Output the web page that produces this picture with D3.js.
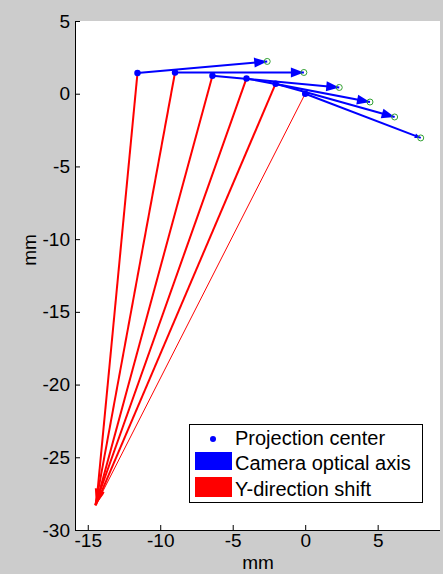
<!DOCTYPE html>
<meta charset="utf-8">
<script src="https://cdnjs.cloudflare.com/ajax/libs/d3/7.8.5/d3.min.js"></script>
<style>
  body { margin: 0; background: #cccccc; }
  text { font-family: "Liberation Sans", Arial, sans-serif; }
</style>
<div id="chart"></div>
<script>

  // projection centers (blue dots)
  const centerX = [-11.57, -8.98, -6.4, -4.05, -2.04, 0]
  const centerY = [1.42, 1.46, 1.24, 1.05, 0.69, 0]
  // camera optical axis end points (green circles)
  const axisEndX = [-2.62, -0.09, 2.35, 4.47, 6.17, 7.97]
  const axisEndY = [2.22, 1.46, 0.43, -0.57, -1.6, -3.04]
  // y-direction shift end points
  const shiftEndX = [-14.4, -14.45, -14.45, -14.5, -14.45, -14.4]
  const shiftEndY = [-28.1, -28.2, -28.3, -28.3, -28.3, -28.2]

  const xTicks = [-15, -10, -5, 0, 5]
  const yTicks = [-30, -25, -20, -15, -10, -5, 0, 5]
  const legendLabels = ['Projection center', 'Camera optical axis', 'Y-direction shift']

  const width = 443, height = 574
  const svg = d3.select('#chart').append('svg')
    .attr('width', width).attr('height', height)

  svg.append('rect').attr('width', width).attr('height', height).attr('fill', '#cccccc')

  const x = d3.scaleLinear().domain([-15.88, 9.3]).range([75, 440])
  const y = d3.scaleLinear().domain([-30, 5]).range([530, 21])

  svg.append('rect')
    .attr('x', 75).attr('y', 21)
    .attr('width', 365).attr('height', 509)
    .attr('fill', 'white')

  const data = centerX.map((cx, i) => ({
    cx: cx, cy: centerY[i],
    ax: axisEndX[i], ay: axisEndY[i],
    sx: shiftEndX[i], sy: shiftEndY[i],
    thin: i === 5
  }))

  // arrowhead as a filled triangle at (x2,y2)
  function head(x1, y1, x2, y2, len, half) {
    const dx = x2 - x1, dy = y2 - y1
    const L = Math.sqrt(dx * dx + dy * dy)
    const ux = dx / L, uy = dy / L
    const bx = x2 - ux * len, by = y2 - uy * len
    return 'M' + x2 + ',' + y2 +
      'L' + (bx - uy * half) + ',' + (by + ux * half) +
      'L' + (bx + uy * half) + ',' + (by - ux * half) + 'Z'
  }

  // red lines
  data.forEach(d => {
    const x1 = x(d.cx), y1 = y(d.cy), x2 = x(d.sx), y2 = y(d.sy)
    svg.append('line')
      .attr('x1', x1).attr('y1', y1).attr('x2', x2).attr('y2', y2)
      .attr('stroke', '#ff0000').attr('stroke-width', d.thin ? 1 : 2)
    svg.append('path').attr('d', head(x1, y1, x2, y2, 14, d.thin ? 2 : 3)).attr('fill', '#ff0000')
  })

  // blue arrows
  data.forEach(d => {
    const x1 = x(d.cx), y1 = y(d.cy), x2 = x(d.ax), y2 = y(d.ay)
    svg.append('line')
      .attr('x1', x1).attr('y1', y1).attr('x2', x2).attr('y2', y2)
      .attr('stroke', '#0000ff').attr('stroke-width', 2)
    svg.append('path').attr('d', d.thin ? head(x1, y1, x2, y2, 6, 2.5) : head(x1, y1, x2, y2, 13, 5))
      .attr('fill', '#0000ff')
  })

  // end circles
  svg.selectAll('.endc').data(data).enter().append('circle')
    .attr('cx', d => x(d.ax)).attr('cy', d => y(d.ay)).attr('r', 3)
    .attr('fill', 'none').attr('stroke', '#33a033').attr('stroke-width', 1)

  // projection centers
  svg.selectAll('.ctr').data(data).enter().append('circle')
    .attr('cx', d => x(d.cx)).attr('cy', d => y(d.cy)).attr('r', 3.2)
    .attr('fill', '#0000ff')

  // axes (inward ticks, plain hyphen minus)
  const fmt = d => String(d)
  const xAxis = svg.append('g').attr('transform', 'translate(0,530)')
    .call(d3.axisBottom(x).tickValues(xTicks).tickFormat(fmt).tickSizeInner(-5).tickSizeOuter(0).tickPadding(4))
  const yAxis = svg.append('g').attr('transform', 'translate(75,0)')
    .call(d3.axisLeft(y).tickValues(yTicks).tickFormat(fmt).tickSizeInner(-5).tickSizeOuter(0).tickPadding(5))
  ;[xAxis, yAxis].forEach(g => {
    g.select('.domain').attr('stroke', 'black')
    g.selectAll('text').attr('font-size', 19).attr('fill', 'black')
      .attr('font-family', '"Liberation Sans", Arial, sans-serif')
  })
  // domain lines spanning the full box
  xAxis.select('.domain').attr('d', 'M75,0.5H440')
  yAxis.select('.domain').attr('d', 'M0.5,21V530')

  svg.append('text').attr('x', 258).attr('y', 569).attr('text-anchor', 'middle')
    .attr('font-size', 19).text('mm')
  svg.append('text').attr('transform', 'translate(36,250) rotate(-90)')
    .attr('text-anchor', 'middle').attr('font-size', 19).text('mm')

  // legend
  const lg = svg.append('g')
  lg.append('rect').attr('x', 189.5).attr('y', 424.5).attr('width', 233).attr('height', 78)
    .attr('fill', 'white').attr('stroke', 'black').attr('stroke-width', 1)
  lg.append('circle').attr('cx', 213).attr('cy', 439).attr('r', 3).attr('fill', '#0000ff')
  lg.append('rect').attr('x', 195).attr('y', 452).attr('width', 37).attr('height', 18).attr('fill', '#0000ff')
  lg.append('rect').attr('x', 195).attr('y', 477).attr('width', 37).attr('height', 20).attr('fill', '#ff0000')
  const legendBase = [445, 470, 496]
  legendLabels.forEach((t, i) => {
    lg.append('text').attr('x', 235).attr('y', legendBase[i]).attr('font-size', 20).text(t)
  })

</script>
